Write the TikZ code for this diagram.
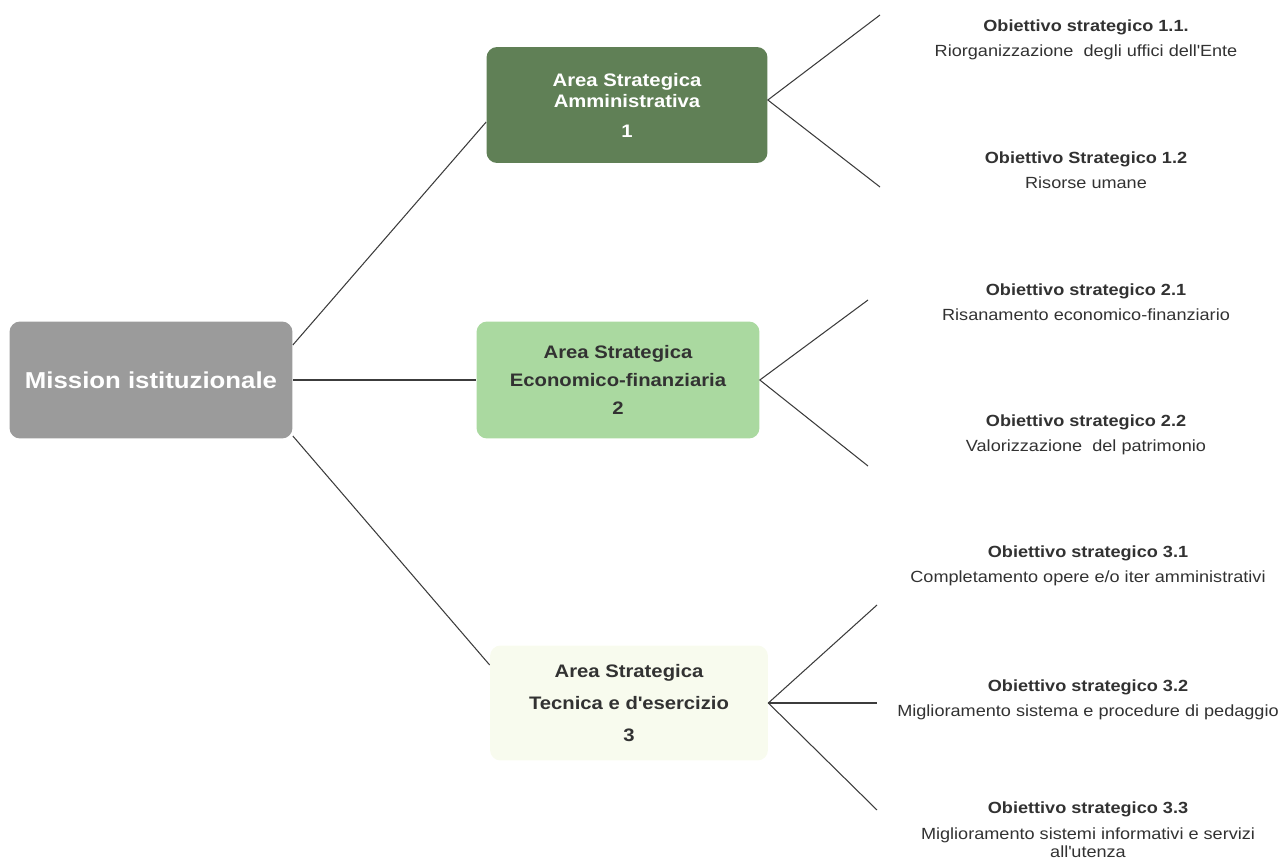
\documentclass[tikz,border=0pt]{standalone}
\usepackage{fontspec}
\setmainfont{Liberation Sans}[FakeStretch=1.12]
\usetikzlibrary{positioning}
\usetikzlibrary{calc}

\definecolor{missiongray}{RGB}{155,155,155}
\definecolor{areadark}{RGB}{96,128,86}
\definecolor{arealight}{RGB}{170,217,160}
\definecolor{areapale}{RGB}{248,251,238}
\definecolor{textgray}{RGB}{50,50,50}
\definecolor{linegray}{RGB}{60,60,60}

\tikzset{
    areabox/.style={rounded corners=6pt,minimum width=5.62cm,minimum height=2.32cm,
        align=center,font=\bfseries\fontsize{10.3}{12}\selectfont},
    goal/.style={align=center,text=textgray,font=\fontsize{9.2}{10.5}\selectfont},
    branch/.style={draw=linegray,line width=0.6pt}
}

\begin{document}
\begin{tikzpicture}[x=0.02cm,y=-0.02cm]
        % Frame
        \useasboundingbox (0,0) rectangle (1287,865);
        % Mission
        \node (mis) at (151,380) [rounded corners=6pt,fill=missiongray,text=white,
            minimum width=5.66cm,minimum height=2.34cm,
            font=\bfseries\fontsize{13.1}{15}\selectfont] {Mission istituzionale};
        % Areas
        \node (area1) at (627,105) [areabox,fill=areadark,text=white]
            {Area Strategica\\Amministrativa\\[5pt]1};
        \node (area2) at (618,380) [areabox,fill=arealight,text=textgray,
            minimum width=5.66cm,minimum height=2.34cm]
            {Area Strategica\\[4pt]Economico-finanziaria\\[4pt]2};
        \node (area3) at (629,703) [areabox,fill=areapale,text=textgray,
            minimum width=5.56cm,minimum height=2.3cm]
            {Area Strategica\\[6pt]Tecnica e d\textquotesingle esercizio\\[6pt]3};
        \draw [branch] ([yshift=0.7cm]mis.east) -- ([yshift=-0.34cm]area1.west);
        \draw [branch] (mis.east) -- (area2.west);
        \draw [branch] ([yshift=-1.12cm]mis.east) -- ([yshift=0.76cm]area3.west);
        % Objectives
        \node (ob11) at (1086,40) [goal] {\textbf{Obiettivo strategico 1.1.}\\[3.5pt]Riorganizzazione\ \ degli uffici dell\textquotesingle Ente};
        \node (ob12) at (1086,170) [goal] {\textbf{Obiettivo Strategico 1.2}\\[3.5pt]Risorse umane};
        \node (ob21) at (1086,302) [goal] {\textbf{Obiettivo strategico 2.1}\\[3.5pt]Risanamento economico-finanziario};
        \node (ob22) at (1086,435) [goal] {\textbf{Obiettivo strategico 2.2}\\[4pt]Valorizzazione\ \ del patrimonio};
        \node (ob31) at (1088,566) [goal] {\textbf{Obiettivo strategico 3.1}\\[4pt]Completamento opere e/o iter amministrativi};
        \node (ob32) at (1088,700) [goal] {\textbf{Obiettivo strategico 3.2}\\[4pt]Miglioramento sistema e procedure di pedaggio};
        \node (ob33) at (1088,830) [goal] {\textbf{Obiettivo strategico 3.3}\\[4pt]Miglioramento sistemi informativi e servizi\\all\textquotesingle utenza};
        % Branch ends
        \coordinate (e11) at (880,15);
        \coordinate (e12) at (880,187);
        \coordinate (e21) at (868,300);
        \coordinate (e22) at (868,466);
        \coordinate (e31) at (877,605);
        \coordinate (e32) at (877,703);
        \coordinate (e33) at (877,810);
        \draw [branch] (e11) -- ([yshift=0.1cm]area1.east) -- (e12);
        \draw [branch] (e21) -- (area2.east) -- (e22);
        \draw [branch] (e31) -- (area3.east) -- (e33);
        \draw [branch] (area3.east) -- (e32);
    \end{tikzpicture}
\end{document}
